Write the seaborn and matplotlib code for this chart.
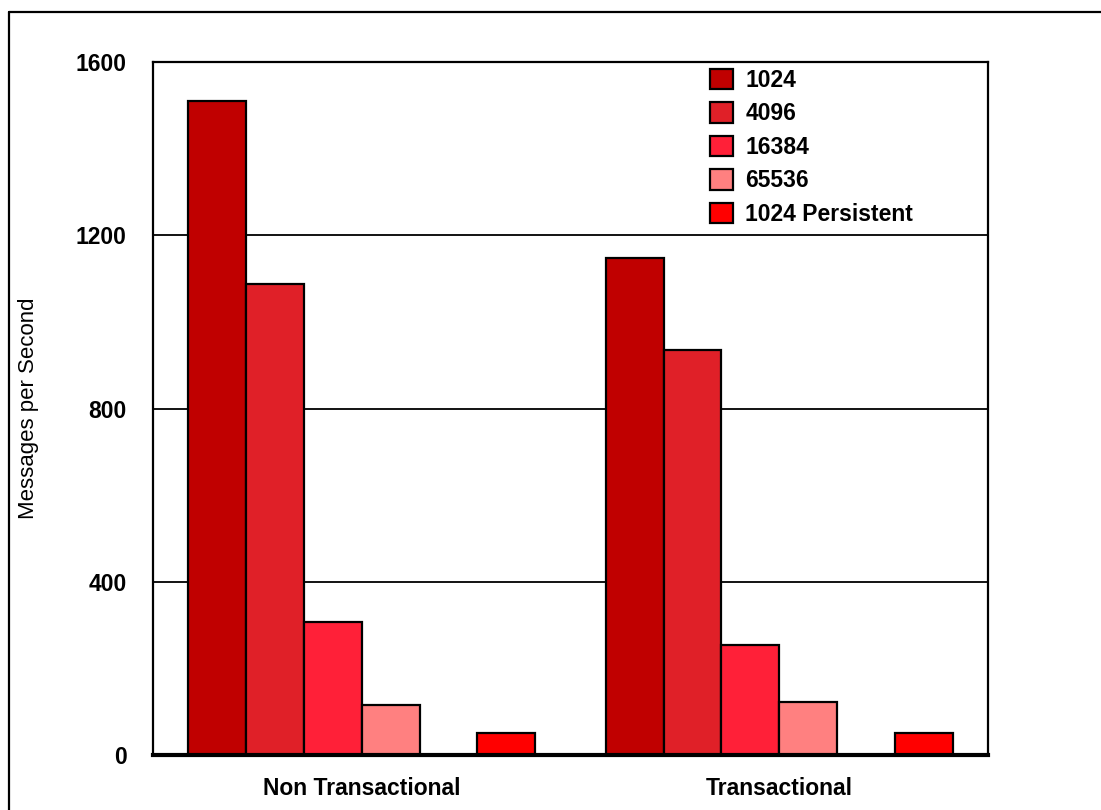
import pandas as pd
import seaborn as sns
import matplotlib.pyplot as plt
from matplotlib.patches import Patch
from matplotlib.lines import Line2D

# messages per second
modes = ['Non Transactional', 'Transactional']
sizes = ['1024', '4096', '16384', '65536', ' ', '1024 Persistent']
v1024 = [1510, 1148]
v4096 = [1088, 935]
v16384 = [307, 254]
v65536 = [115, 122]
vblank = [0, 0]
vpersist = [50, 50]
colors = ['#C00000', '#E02028', '#FF2038', '#FF8080', '#FFFFFF', '#FF0000']

rows = []
for size, vals in zip(sizes, [v1024, v4096, v16384, v65536, vblank, vpersist]):
    for mode, v in zip(modes, vals):
        rows.append({'Mode': mode, 'Size': size, 'Rate': v})
df = pd.DataFrame(rows)

sns.set_style('white')
plt.rcParams['font.family'] = ['Liberation Sans', 'DejaVu Sans']
plt.rcParams['text.color'] = 'black'
plt.rcParams['axes.labelcolor'] = 'black'
plt.rcParams['xtick.color'] = 'black'
plt.rcParams['ytick.color'] = 'black'

fig = plt.figure(figsize=(11.01, 8.10), dpi=100)
ax = fig.add_axes([153 / 1101, 1 - 755 / 810, 835 / 1101, 693 / 810])

sns.barplot(data=df, x='Mode', y='Rate', hue='Size', hue_order=sizes,
            palette=dict(zip(sizes, colors)), saturation=1, width=0.83, gap=0,
            edgecolor='black', linewidth=1.6, legend=False, ax=ax, zorder=3)

ax.set_ylim(0, 1600)
ax.set_xlim(-0.5, 1.5)
ax.set_yticks([0, 400, 800, 1200, 1600])
ax.yaxis.grid(True, color='black', linewidth=1.3, zorder=0)
ax.set_axisbelow(True)
ax.tick_params(axis='both', length=0, labelsize=16.5)
ax.tick_params(axis='y', pad=19)
ax.tick_params(axis='x', pad=16)
for lab in ax.get_xticklabels() + ax.get_yticklabels():
    lab.set_fontweight('bold')
ax.set_xlabel('')
ax.set_ylabel('Messages per Second', fontsize=16)
ax.yaxis.set_label_coords(-0.137, 0.5)

for side in ['left', 'top', 'right']:
    ax.spines[side].set_color('black')
    ax.spines[side].set_linewidth(1.6)
ax.spines['bottom'].set_color('black')
ax.spines['bottom'].set_linewidth(3)
ax.spines['bottom'].set_zorder(4)

handles = [Patch(facecolor=c, edgecolor='black', linewidth=1.6)
           for s, c in zip(sizes, colors) if s.strip()]
labels = [s for s in sizes if s.strip()]
leg = ax.legend(handles, labels, loc='upper left', bbox_to_anchor=(0.667, 0.99),
                frameon=False, borderpad=0, borderaxespad=0,
                handlelength=1.0, handleheight=1.0, handletextpad=0.55,
                labelspacing=0.45, prop={'size': 16.5, 'weight': 'bold'})

# outer border, cut off at right and bottom like the original
fig.add_artist(Line2D([9 / 1101, 9 / 1101], [0, 1 - 12 / 810],
                      transform=fig.transFigure, color='black', linewidth=1.6))
fig.add_artist(Line2D([9 / 1101, 1], [1 - 12 / 810, 1 - 12 / 810],
                      transform=fig.transFigure, color='black', linewidth=1.6))

fig.savefig('out.png', dpi=100)
